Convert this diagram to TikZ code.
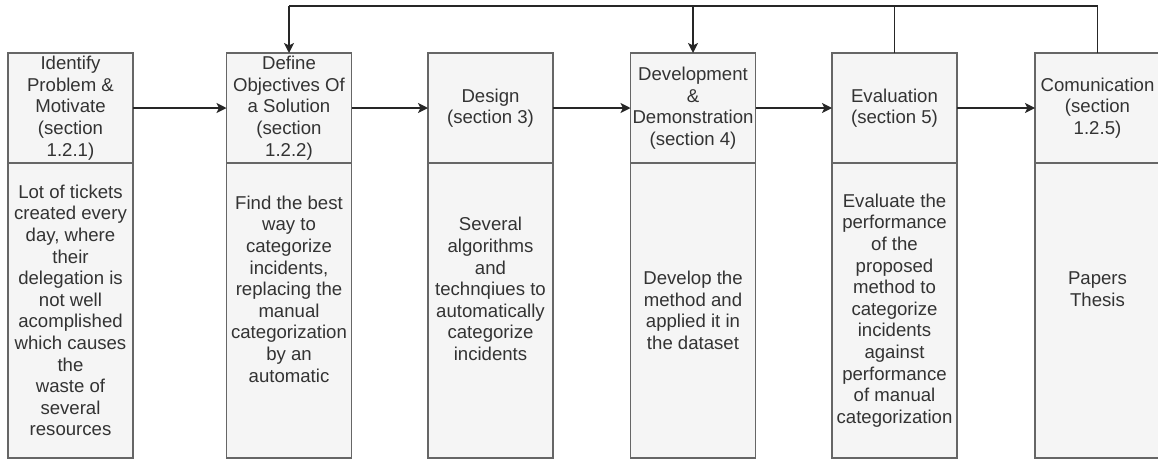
\documentclass[tikz,border=0pt]{standalone}
\usepackage{fontspec}
\setmainfont{Liberation Sans}
\usetikzlibrary{arrows.meta}
\definecolor{boxfill}{HTML}{F5F5F5}
\definecolor{boxline}{HTML}{666666}
\definecolor{txt}{HTML}{333333}
\begin{document}
\begin{tikzpicture}[x=1pt,y=-1pt,
  panel/.style={draw=boxline, fill=boxfill, line width=1.3pt, minimum width=125pt,
    inner sep=0pt, outer sep=0pt, align=center, text=txt,
    font=\fontsize{18.6}{21.6}\selectfont},
  head/.style={panel, minimum height=110pt},
  body/.style={panel, minimum height=295pt},
  link/.style={draw=black!85, line width=1.4pt},
  arr/.style={link, -{Stealth[length=10pt,width=10pt,inset=2.5pt]}}]
\useasboundingbox (0,0) rectangle (1158,459);
% headers
\node[head] (h1) at (70.5,108) {Identify\\Problem \&\\Motivate\\(section\\1.2.1)};
\node[head] (h2) at (289,108) {Define\\Objectives Of\\a Solution\\(section\\1.2.2)};
\node[head] (h3) at (490.5,108) {Design\\(section 3)};
\node[head] (h4) at (693,108) {Development\\\&\\Demonstration\\(section 4)};
\node[head] (h5) at (894.5,108) {Evaluation\\(section 5)};
\node[head] (h6) at (1097.5,108) {Comunication\\(section\\1.2.5)};
% bodies
\node[body] (b1) at (70.5,310.5) {Lot of tickets\\created every\\day, where\\their\\delegation is\\not well\\acomplished\\which causes\\the\\waste of\\several\\resources};
\node[body] (b2) at (289,310.5) {Find the best\\way to\\categorize\\incidents,\\replacing the\\manual\\categorization\\by an\\automatic\\[21.6pt]};
\node[body] (b3) at (490.5,310.5) {Several\\algorithms\\and\\technqiues to\\automatically\\categorize\\incidents\\[21.6pt]};
\node[body] (b4) at (693,310.5) {Develop the\\method and\\applied it in\\the dataset};
\node[body] (b5) at (894.5,310.5) {Evaluate the\\performance\\of the\\proposed\\method to\\categorize\\incidents\\against\\performance\\of manual\\categorization};
\node[body] (b6) at (1097.5,310.5) {Papers\\Thesis\\[21.6pt]};
% horizontal flow
\draw[arr] (h1.east) -- (h2.west);
\draw[arr] (h2.east) -- (h3.west);
\draw[arr] (h3.east) -- (h4.west);
\draw[arr] (h4.east) -- (h5.west);
\draw[arr] (h5.east) -- (h6.west);
% feedback loop on top
\coordinate (top) at (0,6);
\draw[link] (h6.north) -- (h6.north |- top) -- (h2.north |- top);
\draw[link] (h5.north) -- (h5.north |- top);
\draw[arr] (h2.north |- top) -- (h2.north);
\draw[arr] (h4.north |- top) -- (h4.north);
\end{tikzpicture}
\end{document}
